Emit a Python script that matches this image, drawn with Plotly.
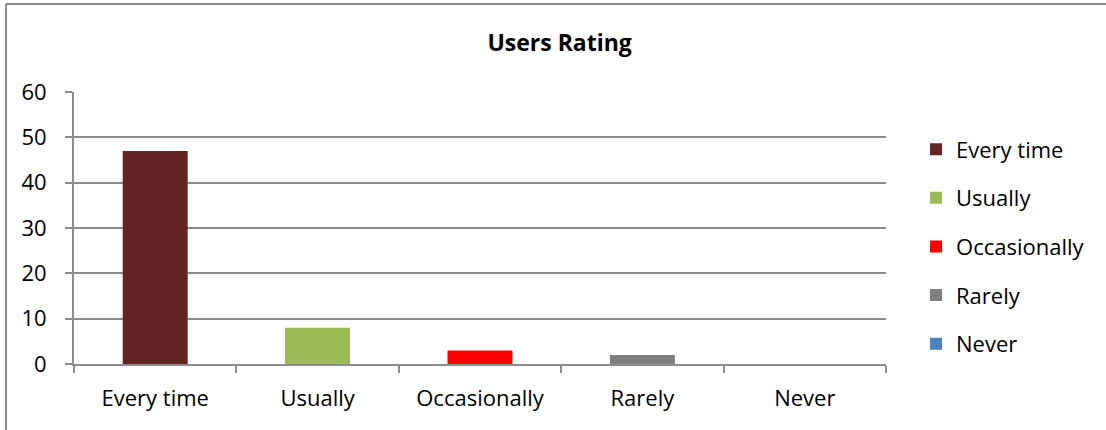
import plotly.graph_objects as go

categories = ["Every time", "Usually", "Occasionally", "Rarely", "Never"]
ratings = [47, 8, 3, 2, 0]
bar_colors = ["#632523", "#9BBB59", "#FF0000", "#7F7F7F", "#4F81BD"]
y_ticks = [0, 10, 20, 30, 40, 50, 60]

FONT = "Open Sans, Calibri, Carlito, sans-serif"
GRID = "#8c8c8c"

fig = go.Figure()

for cat, val, col in zip(categories, ratings, bar_colors):
    fig.add_trace(go.Bar(
        x=[cat], y=[val],
        name=cat,
        marker=dict(color=col, line=dict(width=0)),
        width=0.4,
        legendgroup=cat,
    ))

# outer chart border (only left and top edges show in the frame)
fig.add_shape(type="line", xref="paper", yref="paper",
              x0=-0.0837, x1=1.3, y0=1.3235, y1=1.3235,
              line=dict(color=GRID, width=2))
fig.add_shape(type="line", xref="paper", yref="paper",
              x0=-0.0837, x1=-0.0837, y0=-0.3, y1=1.3235,
              line=dict(color=GRID, width=2))

fig.update_layout(
    width=1106, height=430,
    margin=dict(l=74, r=220, t=92, b=66),
    paper_bgcolor="white", plot_bgcolor="white",
    barmode="overlay",
    font=dict(family=FONT, size=22, color="black"),
    title=dict(text="<b>Users Rating</b>", x=0.506, xref="container",
               xanchor="center", y=0.9, yref="container", yanchor="middle",
               font=dict(family=FONT, size=23, color="black")),
    showlegend=True,
    legend=dict(x=1.037, xanchor="left", y=0.866, yanchor="top",
                traceorder="grouped", tracegroupgap=17,
                font=dict(family=FONT, size=22, color="black"),
                itemclick=False, itemdoubleclick=False),
    xaxis=dict(
        categoryorder="array", categoryarray=categories,
        showline=True, linecolor=GRID, linewidth=2,
        ticks="outside", tickson="boundaries", ticklen=7,
        tickcolor=GRID, tickwidth=2,
        showgrid=False, zeroline=False,
        ticklabelstandoff=14,
        tickfont=dict(family=FONT, size=22, color="black"),
    ),
    yaxis=dict(
        range=[0, 60], tickvals=y_ticks,
        showline=True, linecolor=GRID, linewidth=2,
        ticks="outside", ticklen=7, tickcolor=GRID, tickwidth=2,
        showgrid=True, gridcolor=GRID, gridwidth=2,
        zeroline=False,
        ticklabelstandoff=14,
        tickfont=dict(family=FONT, size=22, color="black"),
    ),
)

fig.write_html("out.html", config={"displayModeBar": False},
               post_script="document.body.style.margin='0';")
